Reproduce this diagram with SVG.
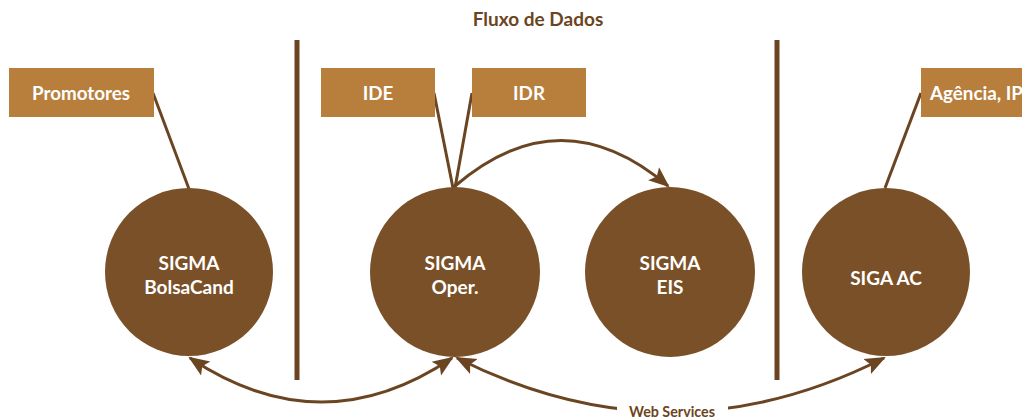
<svg xmlns="http://www.w3.org/2000/svg" width="1022" height="419" viewBox="0 0 1022 419">
<style>
.box{fill:#B87E3C}
.btxt{fill:#fff;font-family:"Lato","Open Sans",sans-serif;font-weight:bold;font-size:18.8px;text-anchor:middle}
.circ{fill:#7A5028}
.ctxt{fill:#fff;font-family:"Lato","Open Sans",sans-serif;font-weight:bold;font-size:19px;text-anchor:middle}
.sep{stroke:#6B4522;stroke-width:5}
.con{stroke:#6B4522;stroke-width:3;fill:none}
.lbl{fill:#6B4522;font-family:"Lato","Open Sans",sans-serif;font-weight:bold;text-anchor:middle}
</style>
<defs>
<marker id="ah" viewBox="0 0 10 10" refX="9" refY="5" markerWidth="7" markerHeight="7" orient="auto-start-reverse" markerUnits="strokeWidth">
<path d="M0,1 L10,5 L0,9 L2,5 z" fill="#6B4522"/>
</marker>
</defs>
<rect width="1022" height="419" fill="#fff"/>
<text class="lbl" x="538" y="26" font-size="19">Fluxo de Dados</text>
<line class="sep" x1="297" y1="40" x2="297" y2="380"/>
<line class="sep" x1="777" y1="40" x2="777" y2="380"/>
<g id="connectors">
<line class="con" x1="153" y1="93" x2="189" y2="189"/>
<line class="con" x1="434" y1="93" x2="453" y2="188"/>
<line class="con" x1="472" y1="93" x2="455" y2="188"/>
<line class="con" x1="921" y1="93" x2="885" y2="188"/>
<path class="con" d="M455,186 Q561,95 668,186" marker-end="url(#ah)"/>
<path class="con" d="M190,358 Q322,446 452,358" marker-start="url(#ah)" marker-end="url(#ah)"/>
<path class="con" d="M457,358 Q671,466 884,358" marker-start="url(#ah)" marker-end="url(#ah)"/>
<rect x="617" y="402" width="111" height="17" fill="#fff"/>
<text class="lbl" x="672" y="417" font-size="14.3">Web Services</text>
</g>
<g id="promotores"><rect class="box" x="9" y="68" width="145" height="49"/><text class="btxt" x="81" y="100">Promotores</text></g>
<g id="ide"><rect class="box" x="321" y="68" width="114" height="49"/><text class="btxt" x="378" y="100">IDE</text></g>
<g id="idr"><rect class="box" x="472" y="68" width="114" height="49"/><text class="btxt" x="529" y="100">IDR</text></g>
<g id="agencia"><rect class="box" x="921" y="68" width="110" height="49"/><text class="btxt" x="930" y="100" style="text-anchor:start">Agência, IP</text></g>
<g id="bolsacand"><circle class="circ" cx="189" cy="272" r="84"/><text class="ctxt" x="189" y="270">SIGMA</text><text class="ctxt" x="189" y="294">BolsaCand</text></g>
<g id="oper"><circle class="circ" cx="455" cy="272" r="85"/><text class="ctxt" x="455" y="270">SIGMA</text><text class="ctxt" x="455" y="294">Oper.</text></g>
<g id="eis"><circle class="circ" cx="670" cy="272" r="85"/><text class="ctxt" x="670" y="270">SIGMA</text><text class="ctxt" x="670" y="294">EIS</text></g>
<g id="siga"><circle class="circ" cx="886" cy="272" r="84"/><text class="ctxt" x="886" y="285">SIGA AC</text></g>
</svg>
